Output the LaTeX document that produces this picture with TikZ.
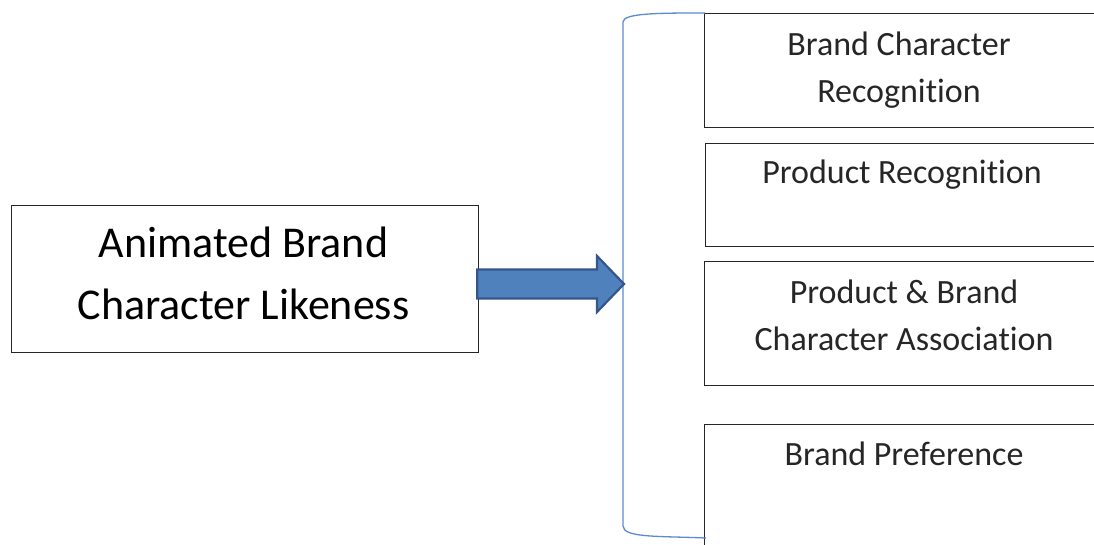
\documentclass[tikz,border=0pt]{standalone}
\usepackage{fontspec}
\setmainfont{Carlito}[Ligatures=NoCommon]
\usetikzlibrary{calc}
\definecolor{brk}{HTML}{5B8BD0}
\definecolor{arrfill}{HTML}{4F81BD}
\definecolor{arrline}{HTML}{34568A}
\tikzset{
  box/.style={draw=black!85, line width=1.3pt, inner sep=0pt, anchor=north west},
  lefttxt/.style={font=\fontsize{44}{62}\selectfont, align=center, text=black},
  righttxt/.style={font=\fontsize{34}{47}\selectfont, align=center, text=black!85},
}
\begin{document}
\begin{tikzpicture}[x=1pt,y=-1pt]
\useasboundingbox (0,0) rectangle (1094,545);
\clip (0,0) rectangle (1094,545);
\fill[white] (0,0) rectangle (1094,545);
% left box
\node[box, minimum width=467pt, minimum height=147pt] (L) at (11,205) {};
\node[lefttxt] (Lt) at (243.5,273.5) {Animated Brand\\Character Likeness};
% right boxes
\node[box, minimum width=420pt, minimum height=114pt] (B1) at (704,13) {};
\node[righttxt] (B1t) at (899,70) {Brand Character\\Recognition};
\node[box, minimum width=420pt, minimum height=103pt] (B2) at (705,143) {};
\node[righttxt] (B2t) at (902,174.5) {Product Recognition};
\node[box, minimum width=420pt, minimum height=124pt] (B3) at (704,261) {};
\node[righttxt] (B3t) at (904,315.5) {Product \& Brand\\Character Association};
\node[box, minimum width=420pt, minimum height=140pt] (B4) at (704,424) {};
\node[righttxt] (B4t) at (904,453.5) {Brand Preference};
% bracket
\coordinate (bt) at (705,13);
\coordinate (bb) at (706,538);
\coordinate (bm) at (624,284);
\draw[brk, line width=1.3pt] (bt) .. controls (660,13) and (623,13) .. (623,22)
  -- (623,526) .. controls (623,538) and (660,536) .. (bb);
% arrow
\coordinate (as) at ($(L.east)+(-2,284-278.5)$);
\filldraw[fill=arrfill, draw=arrline, line width=2.2pt, line join=miter]
  (as |- 0,269.5) -- (597,269.5) -- (597,256) -- (bm) -- (597,312) -- (597,298.5) -- (as |- 0,298.5) -- cycle;
\end{tikzpicture}
\end{document}
